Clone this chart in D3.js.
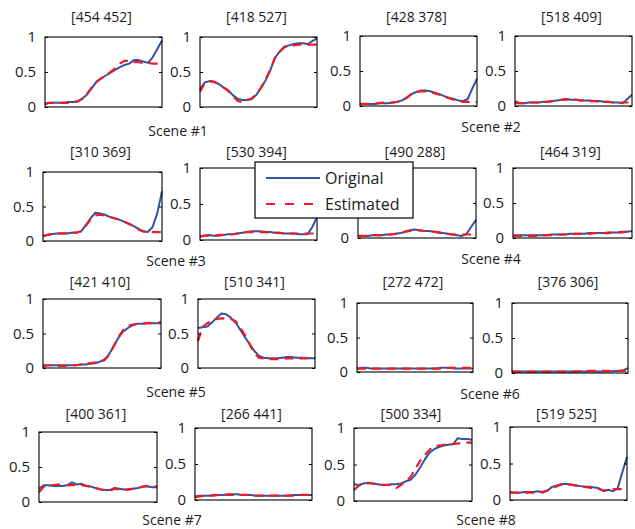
<!DOCTYPE html>
<html>
<head>
<meta charset="utf-8">
<script src="https://cdn.jsdelivr.net/npm/d3@7"></script>
<style>
  body { margin: 0; background: #fff; }
  text { font-family: "Open Sans", sans-serif; fill: #1c1a1b; }
</style>
</head>
<body>
<svg id="chart" width="635" height="529"></svg>
<script>
var width = 635
var height = 529

// panel titles = patch positions, one per panel
var titles = ["[454 452]", "[418 527]", "[428 378]", "[518 409]",
              "[310 369]", "[530 394]", "[490 288]", "[464 319]",
              "[421 410]", "[510 341]", "[272 472]", "[376 306]",
              "[400 361]", "[266 441]", "[500 334]", "[519 525]"]

var sceneNames = ["Scene #1", "Scene #2", "Scene #3", "Scene #4",
                  "Scene #5", "Scene #6", "Scene #7", "Scene #8"]

var yTicks = [0, 0.5, 1]
var yTickLabels = ["0", "0.5", "1"]

var seriesNames = ["Original", "Estimated"]

// 26 samples per curve
var original = [
  [0.05,0.06,0.06,0.06,0.06,0.07,0.07,0.08,0.12,0.18,0.27,0.36,0.41,0.45,0.49,0.53,0.57,0.60,0.62,0.67,0.67,0.65,0.63,0.71,0.83,0.95],
  [0.26,0.35,0.37,0.36,0.33,0.28,0.24,0.17,0.12,0.10,0.10,0.11,0.17,0.27,0.38,0.52,0.70,0.79,0.86,0.88,0.90,0.91,0.91,0.90,0.94,0.98],
  [0.03,0.03,0.03,0.03,0.04,0.04,0.04,0.05,0.06,0.08,0.12,0.17,0.20,0.22,0.22,0.21,0.19,0.17,0.14,0.12,0.10,0.08,0.07,0.10,0.25,0.39],
  [0.07,0.04,0.04,0.05,0.05,0.05,0.06,0.06,0.07,0.08,0.09,0.10,0.09,0.09,0.08,0.08,0.08,0.07,0.07,0.06,0.06,0.05,0.05,0.04,0.10,0.16],
  [0.07,0.09,0.10,0.11,0.11,0.11,0.12,0.12,0.14,0.23,0.33,0.41,0.40,0.38,0.35,0.33,0.31,0.28,0.25,0.22,0.18,0.14,0.13,0.20,0.40,0.72],
  [0.05,0.06,0.07,0.06,0.06,0.07,0.08,0.08,0.09,0.10,0.11,0.12,0.12,0.12,0.11,0.11,0.10,0.10,0.09,0.09,0.09,0.08,0.08,0.08,0.18,0.32],
  [0.03,0.03,0.03,0.04,0.04,0.04,0.05,0.05,0.06,0.07,0.09,0.11,0.12,0.11,0.10,0.10,0.09,0.08,0.07,0.06,0.05,0.04,0.03,0.06,0.16,0.26],
  [0.04,0.04,0.04,0.04,0.04,0.04,0.04,0.04,0.05,0.05,0.05,0.05,0.06,0.06,0.06,0.06,0.07,0.07,0.07,0.07,0.08,0.08,0.08,0.09,0.09,0.10],
  [0.04,0.04,0.04,0.04,0.04,0.04,0.04,0.04,0.05,0.05,0.06,0.07,0.09,0.12,0.20,0.32,0.44,0.53,0.58,0.62,0.64,0.64,0.65,0.65,0.65,0.65],
  [0.58,0.59,0.60,0.66,0.73,0.79,0.78,0.73,0.66,0.56,0.45,0.35,0.25,0.18,0.15,0.14,0.14,0.14,0.15,0.16,0.16,0.15,0.15,0.15,0.14,0.14],
  [0.05,0.06,0.06,0.05,0.05,0.05,0.05,0.05,0.05,0.05,0.05,0.05,0.05,0.05,0.05,0.05,0.05,0.05,0.06,0.06,0.06,0.05,0.05,0.05,0.05,0.05],
  [0.02,0.02,0.02,0.02,0.02,0.02,0.02,0.02,0.02,0.02,0.02,0.02,0.02,0.02,0.02,0.02,0.02,0.02,0.02,0.02,0.02,0.02,0.03,0.03,0.04,0.07],
  [0.19,0.24,0.24,0.23,0.23,0.23,0.24,0.28,0.25,0.26,0.23,0.22,0.20,0.18,0.17,0.17,0.20,0.19,0.18,0.18,0.19,0.20,0.22,0.22,0.21,0.21],
  [0.05,0.06,0.06,0.06,0.07,0.07,0.07,0.08,0.08,0.08,0.07,0.07,0.07,0.06,0.06,0.06,0.06,0.06,0.06,0.06,0.06,0.07,0.07,0.07,0.07,0.07],
  [0.23,0.22,0.24,0.25,0.24,0.23,0.22,0.22,0.23,0.23,0.24,0.27,0.29,0.36,0.46,0.57,0.66,0.71,0.74,0.76,0.77,0.78,0.86,0.85,0.85,0.84],
  [0.11,0.10,0.10,0.11,0.11,0.11,0.12,0.10,0.13,0.18,0.20,0.22,0.22,0.21,0.20,0.19,0.18,0.18,0.17,0.16,0.12,0.14,0.12,0.16,0.38,0.59]
]

var estimated = [
  [0.04,0.06,0.06,0.06,0.06,0.06,0.07,0.08,0.12,0.19,0.28,0.36,0.41,0.45,0.50,0.55,0.62,0.66,0.66,0.64,0.64,0.63,0.63,0.62,0.62,0.62],
  [0.22,0.34,0.37,0.36,0.33,0.28,0.23,0.16,0.09,0.07,0.10,0.12,0.18,0.27,0.39,0.53,0.70,0.79,0.85,0.88,0.88,0.89,0.89,0.89,0.89,0.89],
  [0.03,0.03,0.03,0.03,0.04,0.05,0.05,0.05,0.06,0.08,0.12,0.17,0.20,0.21,0.21,0.20,0.18,0.16,0.13,0.11,0.09,0.07,0.06,0.06,0.06,0.06],
  [0.04,0.04,0.04,0.05,0.05,0.05,0.06,0.06,0.07,0.08,0.09,0.09,0.09,0.09,0.08,0.08,0.07,0.07,0.06,0.06,0.06,0.05,0.05,0.05,0.05,0.05],
  [0.07,0.09,0.10,0.11,0.11,0.11,0.12,0.12,0.14,0.22,0.31,0.37,0.38,0.37,0.35,0.33,0.31,0.28,0.25,0.22,0.17,0.14,0.13,0.13,0.13,0.13],
  [0.05,0.06,0.06,0.06,0.07,0.07,0.08,0.08,0.09,0.10,0.11,0.11,0.11,0.11,0.11,0.10,0.10,0.10,0.09,0.09,0.09,0.09,0.09,0.09,0.09,0.09],
  [0.03,0.03,0.03,0.04,0.04,0.04,0.05,0.05,0.06,0.07,0.09,0.10,0.11,0.11,0.10,0.10,0.09,0.08,0.07,0.06,0.05,0.05,0.05,0.05,0.05,0.05],
  [0.03,0.03,0.03,0.03,0.03,0.03,0.04,0.04,0.04,0.05,0.05,0.05,0.05,0.06,0.06,0.06,0.06,0.07,0.07,0.07,0.07,0.08,0.08,0.08,0.09,0.09],
  [0.02,0.04,0.04,0.03,0.03,0.03,0.04,0.04,0.05,0.06,0.07,0.08,0.09,0.11,0.19,0.32,0.45,0.55,0.61,0.63,0.64,0.64,0.65,0.65,0.66,0.66],
  [0.39,0.60,0.65,0.68,0.71,0.72,0.72,0.71,0.68,0.59,0.48,0.35,0.22,0.15,0.14,0.13,0.13,0.13,0.13,0.14,0.14,0.13,0.14,0.14,0.14,0.14],
  [0.05,0.05,0.05,0.05,0.05,0.05,0.05,0.05,0.05,0.05,0.05,0.05,0.05,0.05,0.05,0.05,0.05,0.05,0.05,0.05,0.06,0.06,0.06,0.06,0.06,0.06],
  [0.02,0.02,0.02,0.02,0.02,0.02,0.02,0.02,0.02,0.02,0.02,0.02,0.02,0.02,0.02,0.03,0.03,0.03,0.03,0.03,0.03,0.03,0.03,0.03,0.03,0.03],
  [0.14,0.22,0.24,0.24,0.25,0.25,0.24,0.24,0.24,0.24,0.23,0.22,0.20,0.18,0.17,0.16,0.19,0.18,0.17,0.18,0.19,0.20,0.22,0.23,0.23,0.22],
  [0.04,0.05,0.06,0.06,0.06,0.07,0.07,0.07,0.07,0.07,0.07,0.07,0.07,0.06,0.06,0.06,0.06,0.06,0.06,0.06,0.06,0.06,0.07,0.07,0.07,0.07],
  [0.15,0.21,0.24,0.24,0.24,0.23,0.22,0.22,0.22,0.18,0.22,0.27,0.33,0.44,0.55,0.63,0.70,0.75,0.76,0.77,0.78,0.78,0.79,0.79,0.80,0.80],
  [0.10,0.10,0.10,0.10,0.10,0.10,0.11,0.11,0.13,0.16,0.19,0.21,0.22,0.21,0.20,0.19,0.18,0.17,0.16,0.15,0.13,0.14,0.15,0.15,0.15,0.15]
]

// layout: axes boxes [left, top, right, bottom] (panels were placed by hand, so not a perfect grid)
var boxes = [
  [45,37,162,107], [200,37,317,107], [360,36,477,106], [515,36,632,106],
  [43,172,162,241], [200,168,317,240], [358,168,476,238], [513,168,632,238],
  [43,299,161,368], [198,299,315,368], [357,303,473,372], [512,303,628,373],
  [39,432,157,502], [195,428,312,500], [354,428,472,501], [510,427,627,500]
]
var titleY = [22, 157, 287, 419]
var sceneX = [178, 491, 176, 491, 176, 490, 172, 486]
var sceneY = [136, 132, 266, 264, 397, 399, 524.5, 524.5]

// panel 7's upper tick labels sit under the legend, so they are not drawn
var legendPanel = 6

var blue = "#3452a6"
var red = "#ed1c24"

var svg = d3.select("#chart")

titles.forEach(function(title, i){
  var b = boxes[i]
  var n = original[i].length
  var x = d3.scaleLinear().domain([0, n - 1]).range([b[0], b[2]])
  var y = d3.scaleLinear().domain([0, 1]).range([b[3], b[1]])

  var g = svg.append("g").attr("class", "panel")

  g.append("rect")
    .attr("x", b[0]).attr("y", b[1])
    .attr("width", b[2] - b[0]).attr("height", b[3] - b[1])
    .attr("fill", "#fff")

  var line = d3.line()
    .x(function(d, j){ return x(j) })
    .y(function(d){ return y(d) })

  g.append("path")
    .attr("d", line(original[i]))
    .attr("fill", "none")
    .attr("stroke", blue)
    .attr("stroke-width", 2)
    .attr("stroke-linejoin", "round")

  g.append("path")
    .attr("d", line(estimated[i]))
    .attr("fill", "none")
    .attr("stroke", red)
    .attr("stroke-width", 2.2)
    .attr("stroke-dasharray", "9,6")

  // left axis with inward ticks, plus matching ticks on the right edge
  var yAxis = d3.axisLeft(y).tickValues(yTicks)
    .tickFormat(function(d, k){ return (i === legendPanel && k > 0) ? "" : yTickLabels[k] })
    .tickSizeInner(-3).tickSizeOuter(0).tickPadding(9)
  var ax = g.append("g").attr("transform", "translate(" + b[0] + ",0)").call(yAxis)
  ax.select(".domain").remove()
  ax.selectAll("line").attr("stroke", "#000")
  ax.selectAll("text")
    .style("font-family", "'Open Sans', sans-serif")
    .style("font-size", "15px")
    .attr("fill", "#1c1a1b")

  var rAxis = d3.axisRight(y).tickValues(yTicks).tickFormat("")
    .tickSizeInner(-3).tickSizeOuter(0)
  var rx = g.append("g").attr("transform", "translate(" + b[2] + ",0)").call(rAxis)
  rx.select(".domain").remove()
  rx.selectAll("line").attr("stroke", "#000")

  g.append("rect")
    .attr("x", b[0]).attr("y", b[1])
    .attr("width", b[2] - b[0]).attr("height", b[3] - b[1])
    .attr("fill", "none")
    .attr("stroke", "#000")
    .attr("stroke-width", 1.1)

  g.append("text")
    .attr("x", (b[0] + b[2]) / 2 - 2)
    .attr("y", titleY[Math.floor(i / 4)])
    .attr("text-anchor", "middle")
    .attr("font-size", 14)
    .text(title)
})

svg.selectAll("text.scene")
  .data(sceneNames)
  .enter()
  .append("text")
    .attr("class", "scene")
    .attr("x", function(d, i){ return sceneX[i] })
    .attr("y", function(d, i){ return sceneY[i] })
    .attr("text-anchor", "middle")
    .attr("font-size", 14)
    .text(function(d){ return d })

// legend sits on top of the panels in row 2
var legend = svg.append("g").attr("transform", "translate(255,162)")
legend.append("rect")
  .attr("width", 158).attr("height", 56)
  .attr("fill", "#fff").attr("stroke", "#000").attr("stroke-width", 1.2)

legend.selectAll("line")
  .data(seriesNames)
  .enter()
  .append("line")
    .attr("x1", 11).attr("x2", 65)
    .attr("y1", function(d, i){ return 16 + i * 26 })
    .attr("y2", function(d, i){ return 16 + i * 26 })
    .attr("stroke", function(d, i){ return i === 0 ? blue : red })
    .attr("stroke-width", 2)
    .attr("stroke-dasharray", function(d, i){ return i === 0 ? null : "9,10" })

legend.selectAll("text")
  .data(seriesNames)
  .enter()
  .append("text")
    .attr("x", 70)
    .attr("y", function(d, i){ return 22 + i * 26 })
    .attr("font-size", 16)
    .text(function(d){ return d })
</script>
</body>
</html>
